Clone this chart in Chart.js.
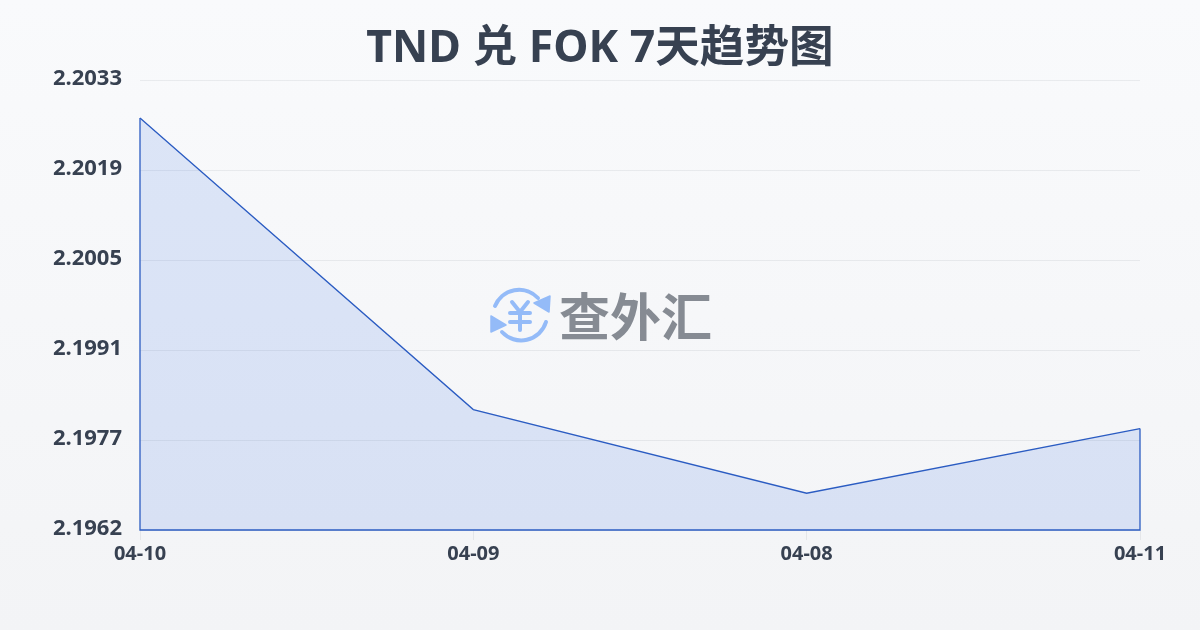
<!DOCTYPE html>
<html lang="zh">
<head>
<meta charset="utf-8">
<title>TND 兑 FOK 7天趋势图</title>
<script src="https://cdn.jsdelivr.net/npm/chart.js@4"></script>
<style>
    html, body { margin: 0; padding: 0; }
    body {
        width: 1200px;
        height: 630px;
        overflow: hidden;
        position: relative;
        background: linear-gradient(180deg, #f9fafc 0%, #f3f4f6 100%);
    }
    #trendChart { position: absolute; left: 0; top: 0; }
    #chartTitle {
        position: absolute;
        left: 0;
        top: 0;
        width: 1200px;
        margin: 0;
        text-align: center;
        font: 700 44.6px/90px "Noto Sans", "Noto Sans CJK SC", sans-serif;
        color: #374151;
    }
    #watermark {
        position: absolute;
        left: 488px;
        top: 284px;
        width: 230px;
        height: 62px;
        pointer-events: none;
    }
    #watermark span {
        position: absolute;
        left: 71px;
        top: -1px;
        font: 700 51px/62px "Noto Sans CJK SC", sans-serif;
        color: #868b93;
        white-space: nowrap;
    }
</style>
</head>
<body>
<canvas id="trendChart" width="1200" height="630"></canvas>
<h1 id="chartTitle"></h1>
<div id="watermark">
    <svg width="64" height="62" viewBox="0 0 64 62" fill="none" stroke="#94bbf8" stroke-linecap="round" stroke-linejoin="round">
        <path d="M7 22 A26 26 0 0 1 50 14" stroke-width="4"/>
        <path d="M62 12 L61 28 L46 19 Z" fill="#94bbf8" stroke-width="1.5"/>
        <path d="M58 38 A26 26 0 0 1 14 48" stroke-width="4"/>
        <path d="M3 32 L3 48 L18 41 Z" fill="#94bbf8" stroke-width="1.5"/>
        <path d="M24 18 L32 28 L40 18 M22 29 L42 29 M22 38 L42 38 M32 28 L32 46" stroke-width="4"/>
    </svg>
    <span>查外汇</span>
</div>
<script>
const fontFamily = '"Noto Sans", "Noto Sans CJK SC", sans-serif';
const titleText = 'TND 兑 FOK 7天趋势图';

const dates = ['04-10', '04-09', '04-08', '04-11'];
const rates = [2.2027, 2.1981, 2.19678, 2.1978];
const yTicks = [2.1962, 2.19762, 2.19904, 2.20046, 2.20188, 2.2033];
const yTickLabels = ['2.1962', '2.1977', '2.1991', '2.2005', '2.2019', '2.2033'];

const lineColor = '#2b5cc2';

document.getElementById('chartTitle').textContent = titleText;

// the line dataset only strokes the top, so close the outline here
const outlinePlugin = {
    id: 'outline',
    afterDatasetsDraw(chart) {
        const x = chart.scales.x;
        const y = chart.scales.y;
        const left = x.getPixelForValue(0);
        const right = x.getPixelForValue(dates.length - 1);
        const ctx = chart.ctx;
        ctx.save();
        ctx.strokeStyle = lineColor;
        ctx.lineWidth = 1.3;
        ctx.beginPath();
        ctx.moveTo(left, y.getPixelForValue(rates[0]));
        ctx.lineTo(left, y.bottom);
        ctx.lineTo(right, y.bottom);
        ctx.lineTo(right, y.getPixelForValue(rates[rates.length - 1]));
        ctx.stroke();
        ctx.restore();
    }
};

new Chart(document.getElementById('trendChart').getContext('2d'), {
    type: 'line',
    data: {
        labels: dates,
        datasets: [{
            data: rates,
            borderColor: lineColor,
            borderWidth: 1.3,
            backgroundColor: 'rgba(59, 113, 226, 0.15)',
            fill: 'start',
            tension: 0,
            pointRadius: 0
        }]
    },
    options: {
        responsive: false,
        animation: false,
        layout: { padding: { left: 0, right: 60, top: 80, bottom: 0 } },
        plugins: {
            legend: { display: false },
            tooltip: { enabled: false },
            title: { display: false }
        },
        scales: {
            x: {
                offset: false,
                border: { display: false },
                grid: { drawOnChartArea: false, color: 'rgba(55, 65, 81, 0.08)', tickLength: 10 },
                ticks: {
                    color: '#374151',
                    font: { family: fontFamily, size: 20, weight: '700' },
                    padding: 2,
                    maxRotation: 0,
                    autoSkip: false
                },
                afterFit(scale) { scale.height = 100; }
            },
            y: {
                min: yTicks[0],
                max: yTicks[yTicks.length - 1],
                border: { display: false },
                grid: { color: 'rgba(55, 65, 81, 0.08)', drawTicks: false },
                afterBuildTicks(scale) {
                    scale.ticks = yTicks.map(v => ({ value: v }));
                },
                ticks: {
                    color: '#374151',
                    font: { family: fontFamily, size: 22, weight: '700' },
                    padding: 18,
                    labelOffset: -1,
                    autoSkip: false,
                    callback: (value, index) => yTickLabels[index]
                },
                afterFit(scale) { scale.width = 140; }
            }
        }
    },
    plugins: [outlinePlugin]
});
</script>
</body>
</html>
